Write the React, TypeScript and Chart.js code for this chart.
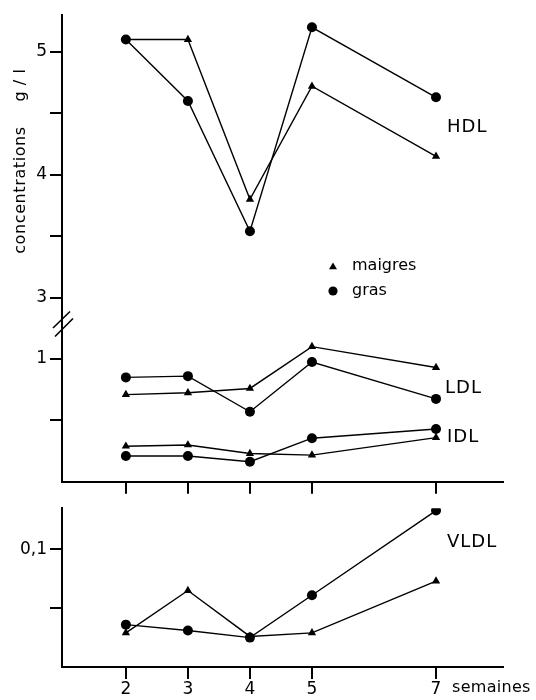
import React, { useEffect, useRef } from "react";
import { Chart, registerables } from "chart.js";

Chart.register(...registerables);

// ---------- data ----------
const weeks = [2, 3, 4, 5, 7];
const hdlMaigres = [5.1, 5.1, 3.8, 4.72, 4.15];
const hdlGras = [5.1, 4.6, 3.54, 5.2, 4.63];
const ldlMaigres = [0.71, 0.725, 0.76, 1.1, 0.93];
const ldlGras = [0.85, 0.86, 0.57, 0.975, 0.675];
const idlMaigres = [0.29, 0.3, 0.23, 0.217, 0.36];
const idlGras = [0.21, 0.21, 0.163, 0.355, 0.43];
const vldlMaigres = [0.029, 0.065, 0.026, 0.029, 0.073];
const vldlGras = [0.036, 0.031, 0.025, 0.061, 0.133];

const upperTickValues = [0.5, 1, 3, 3.5, 4, 4.5, 5];
const upperTickLabels: Record<string, string> = { "1": "1", "3": "3", "4": "4", "5": "5" };
const lowerTickValues = [0.05, 0.1];
const lowerTickLabels: Record<string, string> = { "0.1": "0,1" };
const xTickLabels = ["2", "3", "4", "5", "7"];

// broken axis: values >= 3 are shifted down so that 3 sits just above 1
const BREAK_SHIFT = 1.5;
const toAxis = (v: number) => (v >= 2 ? v - BREAK_SHIFT : v);
const fromAxis = (t: number) => (t > 1.25 ? t + BREAK_SHIFT : t);

const FONT = "'DejaVu Sans', sans-serif";
const X_MIN = 0.97;
const X_MAX = 8.08;
const X_TICK_LEN = 12;

function series(values: number[], style: "triangle" | "circle", axisMap = (v: number) => v) {
  return {
    data: weeks.map((w, i) => ({ x: w, y: axisMap(values[i]) })),
    borderColor: "#000",
    backgroundColor: "#000",
    borderWidth: 1.4,
    pointStyle: style,
    pointRadius: style === "triangle" ? 4.8 : 5,
    pointBorderWidth: 0,
    pointHoverRadius: 5,
    tension: 0,
    fill: false,
  };
}

function xAxis(showLabels: boolean, height: number) {
  return {
    type: "linear" as const,
    min: X_MIN,
    max: X_MAX,
    afterBuildTicks: (s: any) => {
      s.ticks = weeks.map((v) => ({ value: v }));
    },
    afterFit: (s: any) => {
      s.height = height;
    },
    grid: {
      drawOnChartArea: false,
      drawTicks: true,
      tickLength: X_TICK_LEN,
      color: "#000",
      lineWidth: 2,
    },
    border: { display: true, color: "#000", width: 2 },
    ticks: {
      autoSkip: false,
      maxRotation: 0,
      padding: 0,
      color: "#000",
      font: { family: FONT, size: 17 },
      callback: (_v: any, i: number) => (showLabels ? xTickLabels[i] : ""),
    },
  };
}

function yAxis(min: number, max: number, tickValues: number[], labels: Record<string, string>, mapTick: (t: number) => number) {
  return {
    type: "linear" as const,
    min,
    max,
    afterBuildTicks: (s: any) => {
      s.ticks = tickValues.map((v) => ({ value: v }));
    },
    afterFit: (s: any) => {
      s.width = 62;
    },
    grid: {
      drawOnChartArea: false,
      drawTicks: true,
      tickLength: 12,
      color: "#000",
      lineWidth: 2,
    },
    border: { display: true, color: "#000", width: 2 },
    ticks: {
      autoSkip: false,
      padding: 3,
      color: "#000",
      font: { family: FONT, size: 17 },
      callback: (v: any) => {
        const real = Math.round(mapTick(Number(v)) * 1000) / 1000;
        return labels[String(real)] ?? "";
      },
    },
  };
}

function drawTriangle(ctx: CanvasRenderingContext2D, x: number, y: number, r: number) {
  ctx.beginPath();
  for (let k = 0; k < 3; k++) {
    const a = -Math.PI / 2 + (k * 2 * Math.PI) / 3;
    const px = x + Math.cos(a) * r;
    const py = y + Math.sin(a) * r;
    if (k === 0) ctx.moveTo(px, py);
    else ctx.lineTo(px, py);
  }
  ctx.closePath();
  ctx.fill();
}

const upperOverlay = {
  id: "upperOverlay",
  afterDraw(chart: any) {
    const ctx: CanvasRenderingContext2D = chart.ctx;
    ctx.save();
    ctx.fillStyle = "#000";
    ctx.strokeStyle = "#000";
    ctx.textAlign = "left";
    ctx.textBaseline = "alphabetic";
    ctx.font = `18px ${FONT}`;
    (ctx as any).letterSpacing = "1px";
    ctx.fillText("HDL", 447, 132);
    ctx.fillText("LDL", 445, 393);
    ctx.fillText("IDL", 447, 442);

    // legend
    ctx.font = `16px ${FONT}`;
    (ctx as any).letterSpacing = "0px";
    drawTriangle(ctx, 333, 267, 4.6);
    ctx.beginPath();
    ctx.arc(333, 291, 4.6, 0, Math.PI * 2);
    ctx.fill();
    ctx.fillText("maigres", 352, 270);
    ctx.fillText("gras", 352, 295);

    // axis break
    ctx.lineWidth = 1.6;
    ctx.beginPath();
    ctx.moveTo(53, 328);
    ctx.lineTo(70, 311.5);
    ctx.moveTo(55, 336.5);
    ctx.lineTo(73, 318.5);
    ctx.stroke();

    // y title
    ctx.save();
    ctx.translate(25, 0);
    ctx.rotate(-Math.PI / 2);
    ctx.font = `16px ${FONT}`;
    (ctx as any).letterSpacing = "0.6px";
    ctx.textAlign = "center";
    ctx.fillText("concentrations", -190, 0);
    ctx.fillText("g / l", -85, 0);
    ctx.restore();
    ctx.restore();
  },
};

const lowerOverlay = {
  id: "lowerOverlay",
  afterDraw(chart: any) {
    const ctx: CanvasRenderingContext2D = chart.ctx;
    const xs = chart.scales.x;
    ctx.save();
    ctx.strokeStyle = "#000";
    ctx.lineWidth = 2;
    ctx.beginPath();
    weeks.forEach((w) => {
      const px = Math.round(xs.getPixelForValue(w));
      ctx.moveTo(px, chart.chartArea.bottom);
      ctx.lineTo(px, chart.chartArea.bottom + X_TICK_LEN);
    });
    ctx.stroke();

    ctx.fillStyle = "#000";
    ctx.textAlign = "left";
    ctx.textBaseline = "alphabetic";
    ctx.font = `18px ${FONT}`;
    (ctx as any).letterSpacing = "1px";
    ctx.fillText("VLDL", 447, 547 - 495);
    ctx.font = `16px ${FONT}`;
    (ctx as any).letterSpacing = "0.3px";
    ctx.fillText("semaines", 452, 692 - 495);
    ctx.restore();
  },
};

export default function App() {
  const upperRef = useRef<HTMLCanvasElement>(null);
  const lowerRef = useRef<HTMLCanvasElement>(null);

  useEffect(() => {
    const upper = new Chart(upperRef.current!, {
      type: "line",
      data: {
        datasets: [
          series(hdlMaigres, "triangle", toAxis),
          series(hdlGras, "circle", toAxis),
          series(ldlMaigres, "triangle", toAxis),
          series(ldlGras, "circle", toAxis),
          series(idlMaigres, "triangle", toAxis),
          series(idlGras, "circle", toAxis),
        ] as any,
      },
      options: {
        responsive: false,
        animation: false,
        events: [],
        layout: { padding: { top: 15, right: 33, left: 0, bottom: 0 } },
        plugins: { legend: { display: false }, tooltip: { enabled: false } },
        scales: {
          x: xAxis(false, 12) as any,
          y: yAxis(0, 3.8, upperTickValues.map(toAxis), upperTickLabels, fromAxis) as any,
        },
      },
      plugins: [upperOverlay],
    });

    const lower = new Chart(lowerRef.current!, {
      type: "line",
      data: {
        datasets: [series(vldlMaigres, "triangle"), series(vldlGras, "circle")] as any,
      },
      options: {
        responsive: false,
        animation: false,
        events: [],
        layout: { padding: { top: 9, right: 33, left: 0, bottom: 0 } },
        plugins: { legend: { display: false }, tooltip: { enabled: false } },
        scales: {
          x: xAxis(true, 33) as any,
          y: yAxis(0, 0.135, lowerTickValues, lowerTickLabels, (t) => t) as any,
        },
      },
      plugins: [lowerOverlay],
    });

    return () => {
      upper.destroy();
      lower.destroy();
    };
  }, []);

  return (
    <div style={{ position: "absolute", left: 0, top: 0, width: 536, height: 700, background: "#fff" }}>
      <canvas ref={upperRef} width={536} height={495} style={{ position: "absolute", left: 0, top: 0 }} />
      <canvas ref={lowerRef} width={536} height={205} style={{ position: "absolute", left: 0, top: 495 }} />
    </div>
  );
}
